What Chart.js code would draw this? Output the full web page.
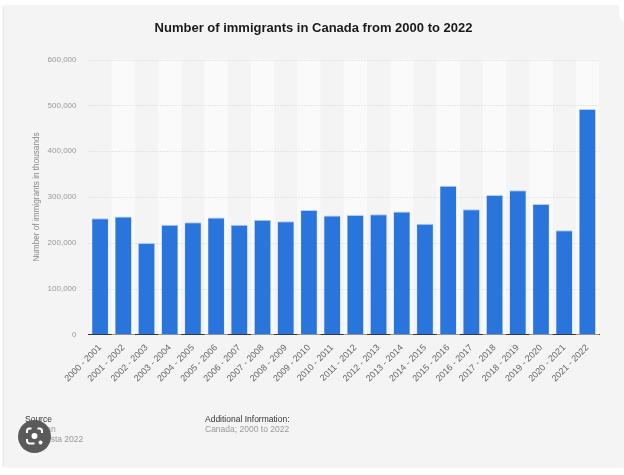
<!DOCTYPE html>
<html>
<head>
<meta charset="utf-8">
<script src="https://cdn.jsdelivr.net/npm/chart.js@4"></script>
<style>
html,body{margin:0;padding:0;background:#fff;width:624px;height:475px;overflow:hidden;font-family:"Liberation Sans",Arial,sans-serif}
#panel{position:absolute;left:4px;top:6px;width:620px;height:461px;background:#f4f4f4;box-shadow:-1px 0 2px rgba(0,0,0,.12)}
#corner{position:absolute;left:619px;top:-10px;width:20px;height:32px;background:#fff;border-radius:8px}
#wrap{position:absolute;left:0;top:0;width:624px;height:475px;filter:blur(0.35px)}
.t{position:absolute;font-size:8.5px;line-height:10px;white-space:nowrap;filter:blur(0.35px)}
.h{color:#333}.s{color:#999}
#lens{position:absolute;left:18px;top:420px}
</style>
</head>
<body>
<div id="panel"></div>
<div id="corner"></div>
<div id="wrap"><canvas id="c" width="624" height="475"></canvas></div>
<div class="t h" style="left:25px;top:414px">Source</div>
<div class="t s" style="left:25px;top:424px">StatCan</div>
<div class="t s" style="left:25px;top:433.500px">© Statista 2022</div>
<div class="t h" style="left:205px;top:414px">Additional Information:</div>
<div class="t s" style="left:205px;top:424px">Canada; 2000 to 2022</div>
<svg id="lens" width="33" height="33" viewBox="0 0 33 33">
<circle cx="16.500" cy="16.500" r="16.500" fill="#5a5a5a"/>
<path d="M9 13v-2a2.500 2.500 0 0 1 2.500-2.500h2M19.500 8.500h2a2.500 2.500 0 0 1 2.500 2.500v2M9 19v2a2.500 2.500 0 0 0 2.500 2.500h5" fill="none" stroke="#fff" stroke-width="2"/>
<circle cx="16.500" cy="16" r="3" fill="#fff"/>
<circle cx="22.500" cy="22.500" r="2" fill="#fff"/>
</svg>
<script>
const titleText = "Number of immigrants in Canada from 2000 to 2022";
const yAxisTitle = "Number of immigrants in thousands";
const categories = ["2000 - 2001","2001 - 2002","2002 - 2003","2003 - 2004","2004 - 2005","2005 - 2006","2006 - 2007","2007 - 2008","2008 - 2009","2009 - 2010","2010 - 2011","2011 - 2012","2012 - 2013","2013 - 2014","2014 - 2015","2015 - 2016","2016 - 2017","2017 - 2018","2018 - 2019","2019 - 2020","2020 - 2021","2021 - 2022"];
const immigrants = [253500,257500,199500,239500,245000,255500,239500,250500,247000,271500,259500,261000,262500,268500,241500,324500,273500,304500,315000,284500,227500,492000];
const yMax = 600000;
const yStep = 100000;

const bands = {
  id: 'bands',
  beforeDatasetsDraw(chart) {
    const {ctx, chartArea: a, scales: {x}} = chart;
    const w = x.getPixelForValue(1) - x.getPixelForValue(0);
    ctx.save();
    ctx.fillStyle = '#fafafa';
    categories.forEach((c, i) => {
      if (i % 2 === 1) ctx.fillRect(x.getPixelForValue(i) - w / 2, a.top, w, a.bottom - a.top);
    });
    ctx.restore();
  }
};
const grid = {
  id: 'gridOver',
  beforeDatasetsDraw(chart) {
    const {ctx, chartArea: a, scales: {y}} = chart;
    ctx.save();
    ctx.strokeStyle = '#d2d2d2';
    ctx.setLineDash([1, 2]);
    ctx.lineWidth = 1;
    y.ticks.forEach(t => {
      if (t.value === 0) return;
      const p = Math.round(y.getPixelForValue(t.value)) + 0.5;
      ctx.beginPath(); ctx.moveTo(a.left, p); ctx.lineTo(a.right, p); ctx.stroke();
    });
    ctx.restore();
  }
};

new Chart(document.getElementById('c'), {
  type: 'bar',
  data: {
    labels: categories,
    datasets: [{
      data: immigrants,
      backgroundColor: '#2a75dc',
      borderColor: 'rgba(120,170,240,.55)',
      borderWidth: {top: 1, left: 0.5, right: 0.5, bottom: 0},
      barPercentage: 0.72,
      categoryPercentage: 1
    }]
  },
  plugins: [bands, grid],
  options: {
    responsive: false,
    animation: false,
    layout: {padding: {left: 28, right: 25, top: 0, bottom: 0}},
    plugins: {
      legend: {display: false},
      tooltip: {enabled: false},
      title: {
        display: true,
        text: titleText,
        color: '#1a1a1a',
        font: {family: '"Liberation Sans", Arial, sans-serif', size: 13, weight: 'bold'},
        padding: {top: 21, bottom: 22.900}
      }
    },
    scales: {
      x: {
        afterFit(s) { s.height = 140.500; },
        grid: {display: false, drawTicks: false},
        border: {display: true, color: '#333', width: 1},
        ticks: {
          autoSkip: false, minRotation: 45, maxRotation: 45, padding: 8,
          color: '#666',
          font: {family: '"Liberation Sans", Arial, sans-serif', size: 9}
        }
      },
      y: {
        min: 0, max: yMax,
        afterFit(s) { s.width = 60.500; },
        grid: {display: false, drawTicks: false},
        border: {display: false},
        title: {
          display: true, text: yAxisTitle, color: '#888',
          font: {family: '"Liberation Sans", Arial, sans-serif', size: 8.2},
          padding: {top: 4, bottom: 0}
        },
        ticks: {
          stepSize: yStep, padding: 12, color: '#999',
          font: {family: '"Liberation Sans", Arial, sans-serif', size: 8},
          callback: v => v.toLocaleString('en-US')
        }
      }
    }
  }
});
</script>
</body>
</html>
